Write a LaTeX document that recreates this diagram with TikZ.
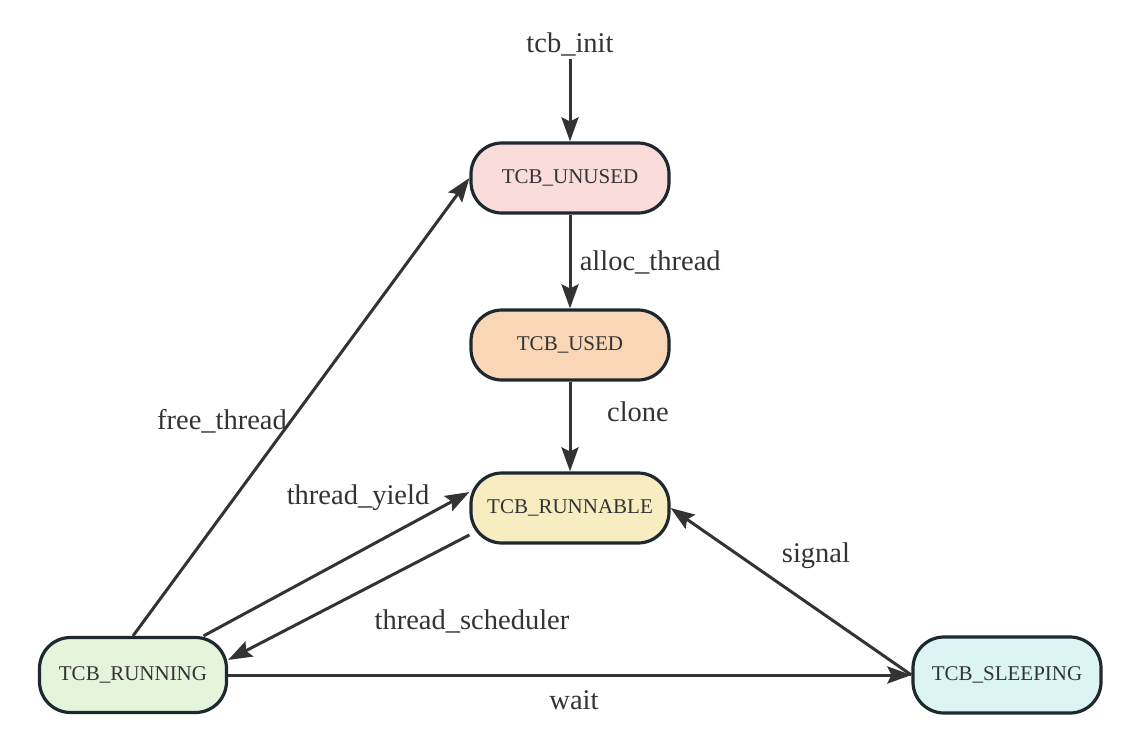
\documentclass[tikz,border=0pt]{standalone}
\usepackage{fontspec}
\setmainfont{Liberation Serif}
\usetikzlibrary{arrows.meta, positioning}

\definecolor{edgegray}{HTML}{333333}
\definecolor{rimgray}{HTML}{1E2831}
\definecolor{unusedfill}{HTML}{FADCDA}
\definecolor{usedfill}{HTML}{F8D6B6}
\definecolor{runnablefill}{HTML}{F7EDC0}
\definecolor{runningfill}{HTML}{E5F5DC}
\definecolor{sleepingfill}{HTML}{DCF4F4}

\tikzset{
  tcbstate/.style={draw=rimgray, line width=3.2pt, rounded corners=31pt,
                   minimum width=198pt, minimum height=70pt,
                   text=edgegray, font=\fontsize{21pt}{24pt}\selectfont},
  trans/.style={draw=edgegray, line width=3pt,
                -{Stealth[length=24pt, width=17pt, inset=4pt]}},
  translabel/.style={text=edgegray, font=\fontsize{28.5pt}{32pt}\selectfont},
}

\begin{document}
\begin{tikzpicture}[x=1pt, y=-1pt]
  \useasboundingbox (0,0) rectangle (1132,755);

  \node[translabel] (init) at (570,44) {tcb\_init};

  \node[tcbstate, fill=unusedfill] (unused) at (570,178) {TCB\_UNUSED};
  \node[tcbstate, fill=usedfill] (used) at (570,345) {TCB\_USED};
  \node[tcbstate, fill=runnablefill] (runnable) at (570,508) {TCB\_RUNNABLE};
  \node[tcbstate, fill=runningfill, minimum width=187pt, minimum height=75pt] (running) at (133,675) {TCB\_RUNNING};
  \node[tcbstate, fill=sleepingfill, minimum width=188pt, minimum height=76pt] (sleeping) at (1007,675) {TCB\_SLEEPING};

  \draw[trans] (init.south) -- (unused.north);
  \draw[trans] (unused.south) -- (used.north)
    node[translabel, anchor=west] at (575,262) {alloc\_thread};
  \draw[trans] (used.south) -- (runnable.north)
    node[translabel] at (638,412) {clone};
  \draw[trans] (running.north) -- (unused.west)
    node[translabel] at (222,421) {free\_thread};
  \draw[trans] (running.29) -- (runnable.171)
    node[translabel] at (358,498) {thread\_yield};
  \draw[trans] (runnable.195) -- (running.9)
    node[translabel] at (472,621) {thread\_scheduler};
  \draw[trans] (sleeping.west) -- (runnable.east)
    node[translabel] at (816,556) {signal};
  \draw[trans] (running.east) -- (sleeping.west)
    node[translabel] at (574,700) {wait};

\end{tikzpicture}
\end{document}
